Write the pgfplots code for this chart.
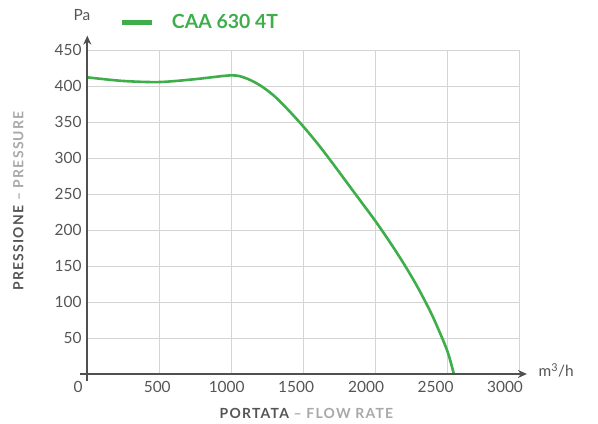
\documentclass[border=0pt]{standalone}
\usepackage{fontspec}
\setmainfont{Lato}
\usepackage{pgfplots}
\pgfplotsset{compat=1.18}
\usetikzlibrary{arrows.meta}
\definecolor{cgreen}{HTML}{3DAE4A}
\definecolor{axgray}{HTML}{505050}
\definecolor{tickgray}{HTML}{555555}
\definecolor{lightlab}{HTML}{A8A8A8}
\definecolor{gridgray}{HTML}{D4D4D4}
\begin{document}
\begin{tikzpicture}
\useasboundingbox (0,0) rectangle (598bp,424bp);
\begin{axis}[
  at={(87.3bp,50bp)}, anchor=origin,
  scale only axis, width=431.7bp, height=324bp,
  xmin=0, xmax=3000, ymin=0, ymax=450,
  clip=false,
  axis x line*=bottom, axis y line*=left,
  axis line style={draw=none},
  tick style={draw=none},
  xtick={0,500,1000,1500,2000,2500,3000},
  xticklabels={{\kern-18.6bp 0},{\kern-4bp 500},{\kern-9bp 1000},{\kern-14bp 1500},{\kern-18bp 2000},{\kern-22.8bp 2500},{\kern-28bp 3000}},
  ytick={50,100,...,450},
  grid=major,
  grid style={gridgray, line width=0.9bp},
  /pgf/number format/assume math mode=true,
  ticklabel style={font=\fontsize{15.5}{17}\selectfont, text=tickgray, inner sep=0pt},
  xticklabel style={anchor=north, yshift=-7.5bp},
  yticklabel style={anchor=east, xshift=-5.5bp},
  xlabel={\addfontfeature{LetterSpace=9}\textbf{\textcolor{tickgray}{PORTATA} \textcolor{lightlab}{– FLOW RATE}}},
  xlabel style={at={(axis description cs:0.5076,-0.1204)}, anchor=center, font=\fontsize{14}{16}\selectfont, inner sep=0pt},
  ylabel={\addfontfeature{LetterSpace=9}\textbf{\textcolor{tickgray}{PRESSIONE} \textcolor{lightlab}{– PRESSURE}}},
  ylabel style={at={(axis description cs:-0.160,0.534)}, anchor=center, rotate=0, font=\fontsize{14}{16}\selectfont, inner sep=0pt},
  legend style={at={(axis description cs:0.0757,1.086)}, anchor=west, draw=none, fill=none, inner sep=0pt, outer sep=0pt, column sep=0pt,
    nodes={inner sep=0pt, outer sep=0pt}, font=\fontsize{19.5}{21}\selectfont\bfseries, text=cgreen},
  legend image code/.code={\draw[line width=5bp, cgreen] (0bp,0bp) -- (30bp,0bp);},
]
\addplot[cgreen, line width=2.6bp, smooth] coordinates {
(0,412) (250,407) (500,405.5) (750,409.5) (1000,414.8) (1100,411) (1200,401)
(1300,386) (1400,366) (1500,344) (1600,320) (1700,294) (1800,267) (1900,240)
(2000,213) (2100,184) (2200,153) (2300,119) (2400,80) (2500,33) (2547,0)
};
\addlegendentry{\hspace*{17bp}CAA 630 4T}
\draw[axgray, line width=2bp, -{Stealth[length=9bp, width=8bp]}] (axis cs:-50,0) -- (axis cs:3055,0);
\draw[axgray, line width=2bp, -{Stealth[length=9bp, width=8bp]}] (axis cs:0,-10) -- (axis cs:0,470);
\node[font=\fontsize{15.5}{17}\selectfont, text=tickgray] at (axis cs:-37,498.6) {Pa};
\node[font=\fontsize{15.5}{17}\selectfont, text=tickgray] at (axis cs:3258,5.5) {m\textsuperscript{3}/h};
\end{axis}
\end{tikzpicture}
\end{document}
